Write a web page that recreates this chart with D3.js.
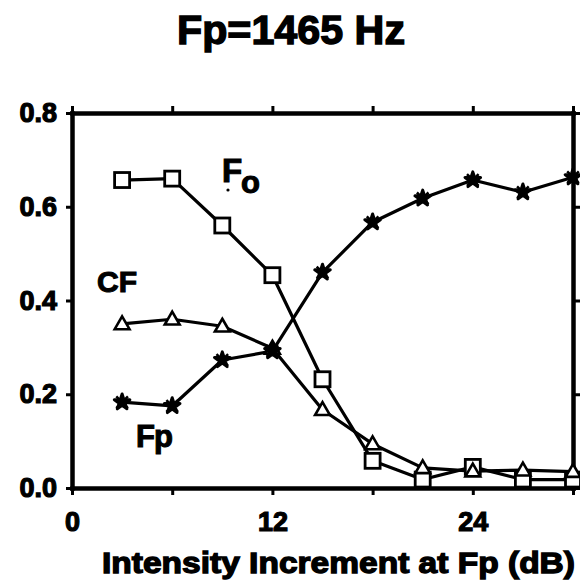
<!DOCTYPE html>
<html>
<head>
<meta charset="utf-8">
<script src="https://cdn.jsdelivr.net/npm/d3@7"></script>
<style>
  html, body { margin: 0; padding: 0; background: #fff; }
  svg { display: block; }
  text { font-family: "Liberation Sans", Arial, sans-serif; font-weight: bold; fill: #000; }
</style>
</head>
<body>
<svg id="chart" width="580" height="588"></svg>
<script>
// Intensity increment at Fp (dB)
const increments = [3, 6, 9, 12, 15, 18, 21, 24, 27, 30];
// Proportion of responses for each cue
const foValues = [0.657, 0.66, 0.56, 0.454, 0.232, 0.058, 0.018, 0.045, 0.018, 0.018];
const cfValues = [0.35, 0.36, 0.345, 0.298, 0.167, 0.094, 0.043, 0.036, 0.038, 0.035];
const fpValues = [0.183, 0.175, 0.273, 0.292, 0.46, 0.567, 0.618, 0.657, 0.631, 0.663];

const xTicks = [0, 6, 12, 18, 24, 30];
const xTickLabels = ["0", "", "12", "", "24", ""];
const yTicks = [0, 0.2, 0.4, 0.6, 0.8];
const yTickLabels = ["0.0", "0.2", "0.4", "0.6", "0.8"];

const titleText = "Fp=1465 Hz";
const xTitle = "Intensity Increment at Fp (dB)";

const svg = d3.select("#chart");
const plotLeft = 72, plotRight = 573, plotTop = 113, plotBottom = 488;

const x = d3.scaleLinear().domain([0, 30]).range([plotLeft, plotRight]);
const y = d3.scaleLinear().domain([0, 0.8]).range([plotBottom, plotTop]);

// Title
svg.append("text")
  .attr("x", 291).attr("y", 44)
  .attr("text-anchor", "middle")
  .attr("textLength", 228).attr("lengthAdjust", "spacingAndGlyphs")
  .style("font-size", "41px")
  .attr("stroke", "#000").attr("stroke-width", 1.4)
  .text(titleText);

function styleAxis(g, tickWidth) {
  g.select(".domain").attr("stroke", "#000").attr("stroke-width", 4.5).attr("stroke-linecap", "square");
  g.selectAll(".tick line").attr("stroke", "#000").attr("stroke-width", tickWidth);
  g.selectAll(".tick text")
    .style("font-size", "27px")
    .attr("fill", "#000")
    .attr("stroke", "#000").attr("stroke-width", 1.2);
}

// Bottom axis
const gBottom = svg.append("g")
  .attr("transform", `translate(0,${plotBottom})`)
  .call(d3.axisBottom(x).tickValues(xTicks).tickSize(7).tickSizeOuter(0).tickPadding(17)
    .tickFormat((d, i) => xTickLabels[i]));
styleAxis(gBottom, 3);

// Top axis (ticks only)
const gTop = svg.append("g")
  .attr("transform", `translate(0,${plotTop})`)
  .call(d3.axisTop(x).tickValues(xTicks).tickSize(7).tickSizeOuter(0).tickFormat(""));
styleAxis(gTop, 3);

// Left axis
const gLeft = svg.append("g")
  .attr("transform", `translate(${plotLeft},0)`)
  .call(d3.axisLeft(y).tickValues(yTicks).tickSize(6).tickSizeOuter(0).tickPadding(9)
    .tickFormat((d, i) => yTickLabels[i]));
styleAxis(gLeft, 3);

// Right axis (ticks only)
const gRight = svg.append("g")
  .attr("transform", `translate(${plotRight},0)`)
  .call(d3.axisRight(y).tickValues(yTicks).tickSize(7).tickSizeOuter(0).tickFormat(""));
styleAxis(gRight, 3);

// Axis title
svg.append("text")
  .attr("x", 102).attr("y", 573)
  .attr("textLength", 473).attr("lengthAdjust", "spacingAndGlyphs")
  .style("font-size", "29px")
  .attr("stroke", "#000").attr("stroke-width", 1.3)
  .text(xTitle);

// Series lines
const line = d3.line().x(d => x(d[0])).y(d => y(d[1]));
const series = [
  { name: "Fo", values: foValues, symbol: "square" },
  { name: "CF", values: cfValues, symbol: "triangle" },
  { name: "Fp", values: fpValues, symbol: "star" }
];

series.forEach(s => {
  const pts = increments.map((v, i) => [v, s.values[i]]);
  svg.append("path")
    .datum(pts)
    .attr("d", line)
    .attr("fill", "none")
    .attr("stroke", "#000")
    .attr("stroke-width", 3.2)
    .attr("stroke-linejoin", "round");
});

// Markers
series.forEach(s => {
  const pts = increments.map((v, i) => [v, s.values[i]]);
  const g = svg.append("g");
  if (s.symbol === "square") {
    g.selectAll("rect").data(pts).join("rect")
      .attr("x", d => x(d[0]) - 7.5).attr("y", d => y(d[1]) - 7.5)
      .attr("width", 15).attr("height", 15)
      .attr("fill", "#fff").attr("stroke", "#000").attr("stroke-width", 2.8);
  } else if (s.symbol === "triangle") {
    g.selectAll("path").data(pts).join("path")
      .attr("transform", d => `translate(${x(d[0])},${y(d[1]) + 1})`)
      .attr("d", d3.symbol(d3.symbolTriangle, 95))
      .attr("fill", "#fff").attr("stroke", "#000").attr("stroke-width", 2.6);
  } else {
    g.selectAll("path.star").data(pts).join("path")
      .attr("class", "star")
      .attr("transform", d => `translate(${x(d[0])},${y(d[1])})`)
      .attr("d", d3.symbol(d3.symbolStar, 75))
      .attr("fill", "#000").attr("stroke", "#000").attr("stroke-width", 3)
      .attr("stroke-linejoin", "round");
    g.selectAll("path.cross").data(pts).join("path")
      .attr("class", "cross")
      .attr("transform", d => `translate(${x(d[0])},${y(d[1])})`)
      .attr("d", d3.symbol(d3.symbolTimes, 90))
      .attr("fill", "none").attr("stroke", "#000").attr("stroke-width", 2.5);
  }
});

// Series labels
const fo = svg.append("g");
fo.append("text").attr("x", 222).attr("y", 182).style("font-size", "33px")
  .attr("stroke", "#000").attr("stroke-width", 1.1).text("F");
fo.append("text").attr("x", 241).attr("y", 193).style("font-size", "31px")
  .attr("stroke", "#000").attr("stroke-width", 1.1).text("o");
fo.append("circle").attr("cx", 228).attr("cy", 190).attr("r", 1.6).attr("fill", "#000");

svg.append("text").attr("x", 97).attr("y", 292).style("font-size", "30px")
  .attr("stroke", "#000").attr("stroke-width", 1.1).text("CF");

svg.append("text").attr("x", 136).attr("y", 447).style("font-size", "31px")
  .style("letter-spacing", "-1px")
  .attr("stroke", "#000").attr("stroke-width", 1.1).text("Fp");
</script>
</body>
</html>
